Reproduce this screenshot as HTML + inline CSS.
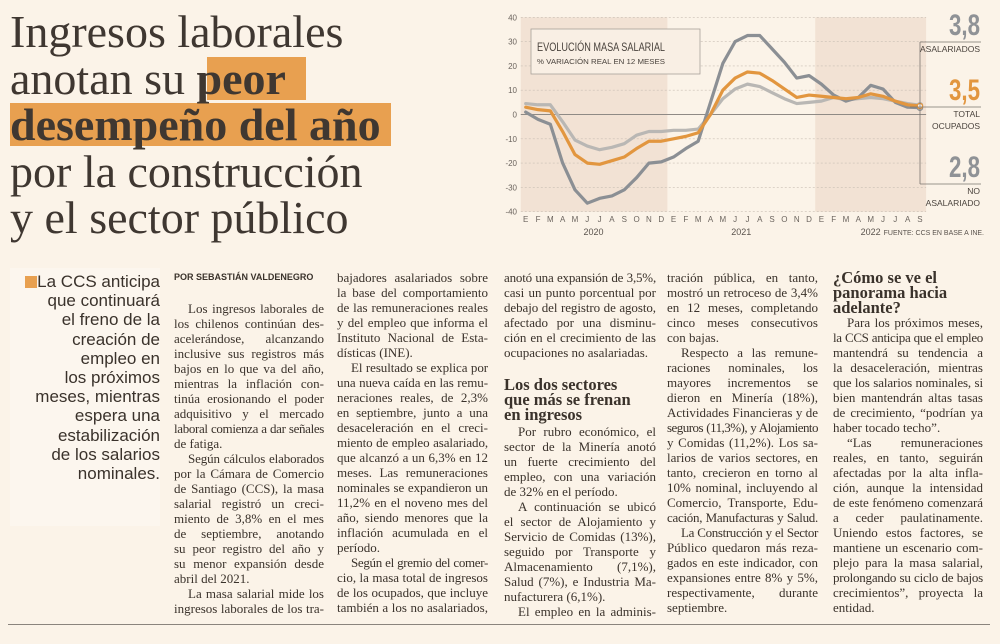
<!DOCTYPE html>
<html><head><meta charset="utf-8">
<style>
html,body{margin:0;padding:0;}
body{width:1000px;height:644px;background:#fbf3e8;position:relative;overflow:hidden;font-family:"Liberation Serif",serif;color:#3a322b;}
.abs{position:absolute;}
.hl{position:absolute;left:10px;font-family:"Liberation Serif",serif;font-size:46px;line-height:46px;color:#3f3731;white-space:nowrap;letter-spacing:0px;}
.col{position:absolute;width:150px;font-size:13px;line-height:15px;}
.col div{height:15px;white-space:nowrap;text-align:justify;text-align-last:justify;}
.col div.e{text-align-last:left;}
.col div.i{padding-left:14px;}
.col div.h{font-weight:bold;font-size:16.5px;text-align-last:left;color:#3a322b;}
.side{position:absolute;left:10px;top:268px;width:150px;height:258px;background:#fcf6ee;}
.side div{text-align:right;font-family:"Liberation Sans",sans-serif;font-size:17px;line-height:19.2px;height:19.2px;white-space:nowrap;color:#3a322b;}
</style></head><body>
<div class="abs" style="left:207px;top:57px;width:99px;height:43px;background:#e8a050;"></div>
<div class="abs" style="left:10px;top:103px;width:381px;height:43px;background:#e8a050;"></div>
<div>
<div class="hl" style="top:9px">Ingresos laborales</div>
<div class="hl" style="top:56px">anotan su <b>peor</b></div>
<div class="hl" style="top:102px"><b>desempeño del año</b></div>
<div class="hl" style="top:149px">por la construcción</div>
<div class="hl" style="top:195px">y el sector público</div>
</div>

<svg class="abs" style="left:0;top:0" width="1000" height="250" id="chart"></svg>

<div class="side">
<div class="abs" style="left:15px;top:8px;width:12px;height:12px;background:#e8a050"></div>
<div style="margin-top:4px">La CCS anticipa</div><div>que continuará</div><div>el freno de la</div><div>creación de</div><div>empleo en</div><div>los próximos</div><div>meses, mientras</div><div>espera una</div><div>estabilización</div><div>de los salarios</div><div>nominales.</div>
</div>

<div class="col" style="left:174px;top:270px">
<div class="e" style="font-family:'Liberation Sans',sans-serif;font-size:9px;font-weight:bold;">POR SEBASTIÁN VALDENEGRO</div>
<div class="e" style="height:16px"></div>
<div class="i">Los ingresos laborales de</div><div>los chilenos continúan des-</div><div>acelerándose, alcanzando</div><div>inclusive sus registros más</div><div>bajos en lo que va del año,</div><div>mientras la inflación con-</div><div>tinúa erosionando el poder</div><div>adquisitivo y el mercado</div><div>laboral comienza a dar señales</div><div class="e">de fatiga.</div>
<div class="i">Según cálculos elaborados</div><div>por la Cámara de Comercio</div><div>de Santiago (CCS), la masa</div><div>salarial registró un creci-</div><div>miento de 3,8% en el mes</div><div>de septiembre, anotando</div><div>su peor registro del año y</div><div>su menor expansión desde</div><div class="e">abril del 2021.</div>
<div class="i">La masa salarial mide los</div><div>ingresos laborales de los tra-</div>
</div>

<div class="col" style="left:337px;top:270px;width:151px">
<div>bajadores asalariados sobre</div><div>la base del comportamiento</div><div>de las remuneraciones reales</div><div>y del empleo que informa el</div><div>Instituto Nacional de Esta-</div><div class="e">dísticas (INE).</div>
<div class="i">El resultado se explica por</div><div>una nueva caída en las remu-</div><div>neraciones reales, de 2,3%</div><div>en septiembre, junto a una</div><div>desaceleración en el creci-</div><div>miento de empleo asalariado,</div><div>que alcanzó a un 6,3% en 12</div><div>meses. Las remuneraciones</div><div>nominales se expandieron un</div><div>11,2% en el noveno mes del</div><div>año, siendo menores que la</div><div>inflación acumulada en el</div><div class="e">período.</div>
<div class="i">Según el gremio del comer-</div><div>cio, la masa total de ingresos</div><div>de los ocupados, que incluye</div><div>también a los no asalariados,</div>
</div>

<div class="col" style="left:504px;top:270px;width:152px">
<div>anotó una expansión de 3,5%,</div><div>casi un punto porcentual por</div><div>debajo del registro de agosto,</div><div>afectado por una disminu-</div><div>ción en el crecimiento de las</div><div class="e">ocupaciones no asalariadas.</div>
<div class="e" style="height:17px"></div>
<div class="h">Los dos sectores</div><div class="h">que más se frenan</div><div class="h">en ingresos</div>
<div class="e" style="height:2px"></div>
<div class="i">Por rubro económico, el</div><div>sector de la Minería anotó</div><div>un fuerte crecimiento del</div><div>empleo, con una variación</div><div class="e">de 32% en el período.</div>
<div class="i">A continuación se ubicó</div><div>el sector de Alojamiento y</div><div>Servicio de Comidas (13%),</div><div>seguido por Transporte y</div><div>Almacenamiento (7,1%),</div><div>Salud (7%), e Industria Ma-</div><div class="e">nufacturera (6,1%).</div>
<div class="i">El empleo en la adminis-</div>
</div>

<div class="col" style="left:667px;top:270px;width:151px">
<div>tración pública, en tanto,</div><div>mostró un retroceso de 3,4%</div><div>en 12 meses, completando</div><div>cinco meses consecutivos</div><div class="e">con bajas.</div>
<div class="i">Respecto a las remune-</div><div>raciones nominales, los</div><div>mayores incrementos se</div><div>dieron en Minería (18%),</div><div>Actividades Financieras y de</div><div>seguros (11,3%), y Alojamiento</div><div>y Comidas (11,2%). Los sa-</div><div>larios de varios sectores, en</div><div>tanto, crecieron en torno al</div><div>10% nominal, incluyendo al</div><div>Comercio, Transporte, Edu-</div><div>cación, Manufacturas y Salud.</div>
<div class="i">La Construcción y el Sector</div><div>Público quedaron más reza-</div><div>gados en este indicador, con</div><div>expansiones entre 8% y 5%,</div><div>respectivamente, durante</div><div class="e">septiembre.</div>
</div>

<div class="col" style="left:833px;top:270px;width:150px">
<div class="h">¿Cómo se ve el</div><div class="h">panorama hacia</div><div class="h">adelante?</div>
<div class="i">Para los próximos meses,</div><div>la CCS anticipa que el empleo</div><div>mantendrá su tendencia a</div><div>la desaceleración, mientras</div><div>que los salarios nominales, si</div><div>bien mantendrán altas tasas</div><div>de crecimiento, “podrían ya</div><div class="e">haber tocado techo”.</div>
<div class="i">“Las remuneraciones</div><div>reales, en tanto, seguirán</div><div>afectadas por la alta infla-</div><div>ción, aunque la intensidad</div><div>de este fenómeno comenzará</div><div>a ceder paulatinamente.</div><div>Uniendo estos factores, se</div><div>mantiene un escenario com-</div><div>plejo para la masa salarial,</div><div>prolongando su ciclo de bajos</div><div>crecimientos”, proyecta la</div><div class="e">entidad.</div>
</div>

<div class="abs" style="left:8px;top:624px;width:982px;height:1px;background:#8a847d"></div>

<script>
const months = ["E","F","M","A","M","J","J","A","S","O","N","D","E","F","M","A","M","J","J","A","S","O","N","D","E","F","M","A","M","J","J","A","S"];
const years = ["2020","2021","2022"];
const yTicks = [40,30,20,10,0,-10,-20,-30,-40];
const noAsalariado = [1,-2,-4,-20,-31,-36.5,-34.5,-33.5,-31,-26,-20,-19.5,-17.5,-14,-11,5,21,30,32.5,32.5,27,21.5,15,16,12.5,8,5.5,7,12,10.5,5,3,2.8];
const totalOcupados = [3,2,1.5,-7,-16.5,-20,-20.5,-19,-17.5,-14,-11,-11,-10,-9,-7.5,0,10,15,17.5,17,14,10.5,7,8,7.5,7,6.5,7,8.5,7.5,5.5,4,3.5];
const asalariados = [4.5,4,4,-3,-10.5,-13,-14.5,-13.5,-12,-8.5,-7,-7,-6.5,-6.5,-6,0,6.5,10.5,12.5,11.5,9,6.5,4.5,5,5.5,7,6,6.5,7,6.5,5.5,4.5,3.8];

// fit justified lines that overflow their column
document.querySelectorAll('.col div:not(.h)').forEach(d=>{
  if(!d.textContent.trim())return;
  const s=document.createElement('span');
  s.textContent=d.textContent;d.textContent='';d.appendChild(s);
  const avail=d.clientWidth-(d.classList.contains('i')?14:0);
  const w=s.getBoundingClientRect().width;
  if(w>avail){d.style.letterSpacing=((avail-w)/s.textContent.length-0.05)+'px';}
});

const NS="http://www.w3.org/2000/svg";
const svg=document.getElementById('chart');
const x=i=>525.7+i*12.32;
const y=v=>114.5-v*2.43;
function el(t,a,parent){const e=document.createElementNS(NS,t);for(const k in a)e.setAttribute(k,a[k]);(parent||svg).appendChild(e);return e;}

let r=el('rect',{x:x(-0.4),y:y(40),width:x(11.5)-x(-0.4),height:y(-40)-y(40),fill:'#f2e2d4'});


r=el('rect',{x:x(23.5),y:y(40),width:x(32.5)-x(23.5),height:y(-40)-y(40),fill:'#f2e2d4'});



yTicks.forEach(v=>{
  const g=el('line',{x1:x(-0.4),x2:x(32.5),y1:y(v),y2:y(v),stroke:v===0?'#8f8a85':'#c9bfb4','stroke-width':v===0?1:0.6,'stroke-dasharray':v===0?'':'2,2'});
  
  
  const t=el('text',{x:517,y:y(v)+3,'text-anchor':'end','font-size':8,'font-family':'Liberation Sans, sans-serif',fill:'#6b645e'});
  t.textContent=v;
  
  
});
months.forEach((m,i)=>{
  const t=el('text',{x:x(i),y:222,'text-anchor':'middle','font-size':8,'font-family':'Liberation Sans, sans-serif',fill:'#6b645e'});
  t.textContent=m;
  
  
});
[5.5,17.5,28].forEach((p,k)=>{
  const t=el('text',{x:x(p),y:235,'text-anchor':'middle','font-size':9,'font-family':'Liberation Sans, sans-serif',fill:'#5a534d'});
  t.textContent=years[k];
  
  
});
let ft=el('text',{x:984,y:235,'text-anchor':'end','font-size':7,'font-family':'Liberation Sans, sans-serif',fill:'#5a534d'});
ft.textContent='FUENTE: CCS EN BASE A INE.';



let lb=el('rect',{x:531,y:29,width:169,height:45,fill:'#f9efe4',stroke:'#a8a09a','stroke-width':0.8});


let tt=el('text',{x:537,y:51,'font-size':12,'font-family':'Liberation Sans, sans-serif',fill:'#4a433d','textLength':128,'lengthAdjust':'spacingAndGlyphs'});
tt.textContent='EVOLUCIÓN MASA SALARIAL';


let st=el('text',{x:537,y:64,'font-size':7,'font-family':'Liberation Sans, sans-serif',fill:'#4a433d','textLength':128,'lengthAdjust':'spacingAndGlyphs'});
st.textContent='% VARIACIÓN REAL EN 12 MESES';



function series(d,c,name){
  const p=el('polyline',{points:d.map((v,i)=>x(i)+','+y(v)).join(' '),fill:'none',stroke:c,'stroke-width':3.2,'stroke-linejoin':'round','stroke-linecap':'round'});
  
  
  const n=d.length-1;
  const ci=el('circle',{cx:x(n),cy:y(d[n]),r:2.6,fill:'#fff',stroke:c,'stroke-width':1.4});
  
  
}
series(asalariados,'#b9b7b4','line-asalariados');
series(noAsalariado,'#8b8f94','line-no-asalariado');
series(totalOcupados,'#e2963f','line-total-ocupados');

const ann=[[asalariados,'#8f9296','3,8',['ASALARIADOS'],42],[totalOcupados,'#e2963f','3,5',['TOTAL','OCUPADOS'],107],[noAsalariado,'#8f9296','2,8',['NO','ASALARIADO'],184]];
let vl=el('line',{x1:920,x2:920,y1:42,y2:184,stroke:'#7a746e','stroke-width':0.8});


ann.forEach(a=>{
  const n=a[0].length-1;
  const ln=el('line',{x1:a[4]===107?x(n)-10:920,x2:981,y1:a[4],y2:a[4],stroke:'#7a746e','stroke-width':0.8});
  
  
  const big=el('text',{x:980,y:a[4]-7,'text-anchor':'end','font-size':30,'font-weight':'bold','font-family':'Liberation Sans, sans-serif',fill:a[1],'textLength':31,'lengthAdjust':'spacingAndGlyphs'});
  big.textContent=a[2];
  
  
  a[3].forEach((s,k)=>{
    const t=el('text',{x:980,y:a[4]+10+k*12,'text-anchor':'end','font-size':8.5,'font-family':'Liberation Sans, sans-serif',fill:'#4a433d'});
    t.textContent=s;
    
    
  });
});
</script>
</body></html>
